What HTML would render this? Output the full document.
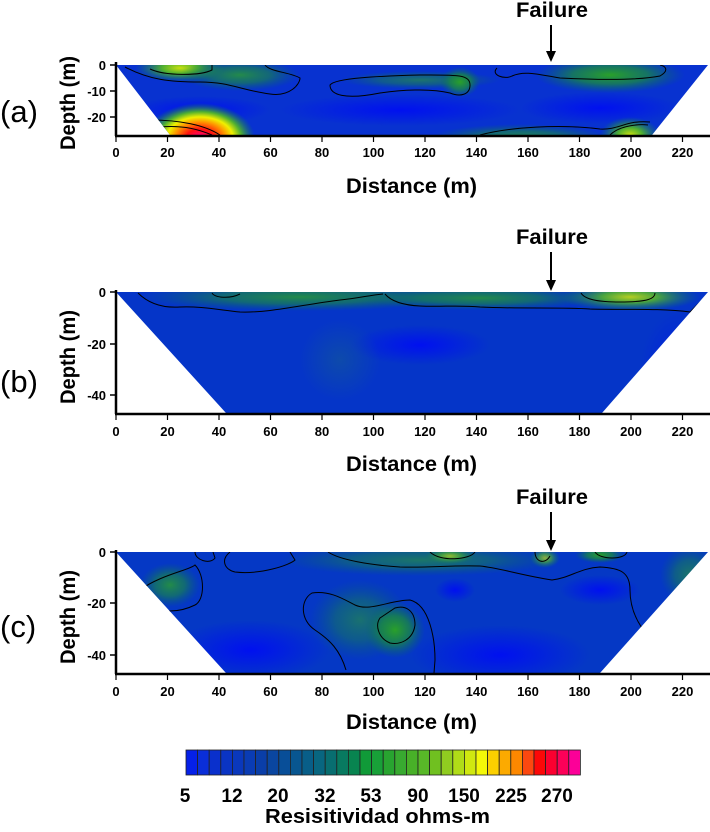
<!DOCTYPE html>
<html><head><style>
html,body{margin:0;padding:0;background:#fff;}
svg text{font-family:"Liberation Sans",Arial,sans-serif;font-weight:bold;}
</style></head><body>
<svg width="710" height="827" viewBox="0 0 710 827" xmlns="http://www.w3.org/2000/svg">
<defs>
<radialGradient id="g"><stop offset="0" stop-color="#2aa02a" stop-opacity="1"/><stop offset="0.5" stop-color="#1a8a40" stop-opacity="0.75"/><stop offset="1" stop-color="#0a6a60" stop-opacity="0"/></radialGradient>
<radialGradient id="gy"><stop offset="0" stop-color="#c8e010"/><stop offset="0.4" stop-color="#50b030"/><stop offset="1" stop-color="#108050" stop-opacity="0"/></radialGradient>
<radialGradient id="hot"><stop offset="0" stop-color="#ff0090"/><stop offset="0.25" stop-color="#ff1010"/><stop offset="0.45" stop-color="#ff9000"/><stop offset="0.6" stop-color="#f0f000"/><stop offset="0.75" stop-color="#50b030"/><stop offset="1" stop-color="#108050" stop-opacity="0"/></radialGradient>
<radialGradient id="bl"><stop offset="0" stop-color="#0010f0"/><stop offset="1" stop-color="#0010f0" stop-opacity="0"/></radialGradient>
<radialGradient id="dg"><stop offset="0" stop-color="#1a6a80"/><stop offset="1" stop-color="#1a6a80" stop-opacity="0"/></radialGradient>
<clipPath id="ca"><polygon points="116,65 708,65 652,135 170,135"/></clipPath>
<clipPath id="cb"><polygon points="116,292 708,292 602,413 226,413"/></clipPath>
<clipPath id="cc"><polygon points="116,552 708,552 600,673 226,673"/></clipPath>
</defs>

<!-- Panel A -->
<g clip-path="url(#ca)">
<rect x="100" y="60" width="620" height="80" fill="#0832d0"/>
<ellipse cx="200" cy="110" rx="70" ry="14" fill="url(#bl)"/>
<ellipse cx="400" cy="110" rx="120" ry="16" fill="url(#bl)"/>
<ellipse cx="600" cy="108" rx="80" ry="16" fill="url(#bl)"/>
<ellipse cx="180" cy="68" rx="45" ry="14" fill="url(#gy)"/>
<ellipse cx="240" cy="75" rx="60" ry="16" fill="url(#g)" opacity="0.8"/>
<ellipse cx="420" cy="80" rx="80" ry="9" fill="url(#g)" opacity="0.6"/>
<ellipse cx="460" cy="82" rx="20" ry="15" fill="url(#g)"/>
<ellipse cx="610" cy="75" rx="75" ry="18" fill="url(#g)"/>
<ellipse cx="200" cy="138" rx="55" ry="35" fill="url(#hot)"/>
<ellipse cx="520" cy="138" rx="90" ry="14" fill="url(#g)" opacity="0.8"/>
<ellipse cx="630" cy="135" rx="30" ry="18" fill="url(#gy)"/>
<g fill="none" stroke="#000" stroke-width="1">
<path d="M125,67 C150,80 170,82 200,82 C230,82 240,90 270,94 C290,97 300,84 300,78 C290,72 270,72 265,65"/>
<path d="M150,69 C165,76 200,76 212,70 L212,65"/>
<path d="M330,85 C335,78 380,76 420,75 C455,75 470,74 470,85 C470,95 460,97 450,93 C430,88 400,90 380,93 C345,100 330,95 330,85Z"/>
<path d="M497,68 C490,75 505,80 512,76 C525,70 540,75 560,78 C600,80 640,80 660,76 C670,70 665,66 660,65"/>
<path d="M150,120 C180,120 205,125 220,135"/>
<path d="M160,127 C185,125 200,130 212,135"/>
<path d="M480,135 C510,127 560,124 600,129 C620,130 625,120 650,122"/>
<path d="M610,135 C620,125 640,124 648,125"/>
</g>
</g>

<!-- Panel B -->
<g clip-path="url(#cb)">
<rect x="100" y="285" width="620" height="135" fill="#0535c8"/>
<ellipse cx="420" cy="345" rx="70" ry="20" fill="url(#bl)"/>
<ellipse cx="680" cy="370" rx="40" ry="60" fill="url(#bl)" opacity="0.6"/>
<ellipse cx="340" cy="360" rx="40" ry="40" fill="url(#dg)" opacity="0.4"/>
<ellipse cx="300" cy="297" rx="160" ry="14" fill="url(#g)" opacity="0.8"/>
<ellipse cx="480" cy="298" rx="120" ry="12" fill="url(#g)" opacity="0.8"/>
<ellipse cx="630" cy="297" rx="70" ry="14" fill="url(#gy)" opacity="0.9"/>
<g fill="none" stroke="#000" stroke-width="1">
<path d="M138,293 C150,305 165,308 180,307 C200,306 220,310 240,312 C270,313 300,305 340,300 C360,298 370,295 383,294"/>
<path d="M212,293 C215,298 230,299 240,294"/>
<path d="M385,294 C390,300 400,305 420,306 C440,307 460,305 480,307 C520,309 560,307 590,309 C620,310 660,308 690,312 L708,294"/>
<path d="M581,293 C585,300 600,302 620,302 C650,302 655,298 655,293"/>
</g>
</g>

<!-- Panel C -->
<g clip-path="url(#cc)">
<rect x="100" y="545" width="620" height="135" fill="#0538c5"/>
<ellipse cx="250" cy="650" rx="80" ry="30" fill="url(#bl)"/>
<ellipse cx="500" cy="655" rx="90" ry="30" fill="url(#bl)"/>
<ellipse cx="455" cy="590" rx="20" ry="12" fill="url(#bl)"/>
<ellipse cx="600" cy="590" rx="40" ry="15" fill="url(#bl)"/>
<ellipse cx="170" cy="585" rx="30" ry="22" fill="url(#g)" opacity="0.8"/>
<ellipse cx="360" cy="620" rx="50" ry="40" fill="url(#g)" opacity="0.55"/>
<ellipse cx="395" cy="630" rx="30" ry="28" fill="url(#g)"/>
<ellipse cx="420" cy="560" rx="140" ry="16" fill="url(#g)" opacity="0.6"/>
<ellipse cx="450" cy="556" rx="25" ry="8" fill="url(#gy)" opacity="0.7"/>
<ellipse cx="545" cy="558" rx="15" ry="10" fill="url(#gy)" opacity="0.7"/>
<ellipse cx="600" cy="555" rx="25" ry="8" fill="url(#g)"/>
<ellipse cx="690" cy="575" rx="30" ry="30" fill="url(#g)" opacity="0.6"/>
<g fill="none" stroke="#000" stroke-width="1">
<path d="M140,590 C160,575 190,570 195,565 C205,575 205,600 195,605 C175,615 150,612 140,600"/>
<path d="M195,552 C195,560 210,565 215,558 L213,552"/>
<path d="M230,552 C220,560 225,570 235,572 C260,575 290,565 295,560 C290,552 290,552 290,552"/>
<path d="M328,552 C340,560 370,565 400,567 C430,568 450,565 480,566 C500,568 520,575 552,580 C570,578 580,568 600,567 C620,568 630,572 630,590 C630,620 650,640 660,645"/>
<path d="M430,552 C440,562 470,560 475,552"/>
<path d="M535,552 C535,562 545,565 550,556"/>
<path d="M595,552 C600,560 625,560 627,552"/>
<path d="M346,670 C340,650 330,640 315,630 C300,620 300,600 312,593 C330,590 345,600 355,605 C370,612 390,600 410,600 C430,605 435,640 435,660 L434,673"/>
<path d="M395,608 C405,605 415,610 415,625 C413,640 400,645 390,643 C378,638 375,625 380,618 Z"/>
</g>
</g>

<!-- Axes -->
<g stroke="#000" fill="none">
<line x1="116" y1="62" x2="116" y2="136" stroke-width="2.5"/>
<line x1="115" y1="136" x2="710" y2="136" stroke-width="2.5"/>
<line x1="116" y1="290" x2="116" y2="414" stroke-width="2.5"/>
<line x1="115" y1="414" x2="710" y2="414" stroke-width="2.5"/>
<line x1="116" y1="550" x2="116" y2="674" stroke-width="2.5"/>
<line x1="115" y1="674" x2="710" y2="674" stroke-width="2.5"/>
<g stroke-width="1.5">
<path d="M110,65H116M110,91H116M110,117H116"/>
<path d="M110,292H116M110,344H116M110,395H116"/>
<path d="M110,552H116M110,603H116M110,655H116"/>
</g>
<g stroke-width="1.2">
<path d="M116,136v6M167.5,136v6M219,136v6M270.5,136v6M322,136v6M373.5,136v6M425,136v6M476.5,136v6M528,136v6M579.5,136v6M631,136v6M682.5,136v6"/>
<path transform="translate(0,278)" d="M116,136v6M167.5,136v6M219,136v6M270.5,136v6M322,136v6M373.5,136v6M425,136v6M476.5,136v6M528,136v6M579.5,136v6M631,136v6M682.5,136v6"/>
<path transform="translate(0,538)" d="M116,136v6M167.5,136v6M219,136v6M270.5,136v6M322,136v6M373.5,136v6M425,136v6M476.5,136v6M528,136v6M579.5,136v6M631,136v6M682.5,136v6"/>
</g>
</g>

<g font-size="13" text-anchor="end" fill="#000">
<text x="106" y="70">0</text><text x="106" y="96">-10</text><text x="106" y="122">-20</text>
<text x="106" y="297">0</text><text x="106" y="349">-20</text><text x="106" y="400">-40</text>
<text x="106" y="557">0</text><text x="106" y="608">-20</text><text x="106" y="660">-40</text>
</g>
<g font-size="13" text-anchor="middle" fill="#000">
<g><text x="116" y="157">0</text><text x="167.5" y="157">20</text><text x="219" y="157">40</text><text x="270.5" y="157">60</text><text x="322" y="157">80</text><text x="373.5" y="157">100</text><text x="425" y="157">120</text><text x="476.5" y="157">140</text><text x="528" y="157">160</text><text x="579.5" y="157">180</text><text x="631" y="157">200</text><text x="682.5" y="157">220</text></g>
<g transform="translate(0,279)"><text x="116" y="157">0</text><text x="167.5" y="157">20</text><text x="219" y="157">40</text><text x="270.5" y="157">60</text><text x="322" y="157">80</text><text x="373.5" y="157">100</text><text x="425" y="157">120</text><text x="476.5" y="157">140</text><text x="528" y="157">160</text><text x="579.5" y="157">180</text><text x="631" y="157">200</text><text x="682.5" y="157">220</text></g>
<g transform="translate(0,539)"><text x="116" y="157">0</text><text x="167.5" y="157">20</text><text x="219" y="157">40</text><text x="270.5" y="157">60</text><text x="322" y="157">80</text><text x="373.5" y="157">100</text><text x="425" y="157">120</text><text x="476.5" y="157">140</text><text x="528" y="157">160</text><text x="579.5" y="157">180</text><text x="631" y="157">200</text><text x="682.5" y="157">220</text></g>
</g>
<g font-size="21" fill="#000">
<text x="346" y="193" textLength="131" lengthAdjust="spacingAndGlyphs">Distance (m)</text>
<text x="346" y="471" textLength="131" lengthAdjust="spacingAndGlyphs">Distance (m)</text>
<text x="346" y="729" textLength="131" lengthAdjust="spacingAndGlyphs">Distance (m)</text>
<text x="516" y="17" textLength="72" lengthAdjust="spacingAndGlyphs">Failure</text>
<text x="516" y="244" textLength="72" lengthAdjust="spacingAndGlyphs">Failure</text>
<text x="516" y="504" textLength="72" lengthAdjust="spacingAndGlyphs">Failure</text>
<text transform="translate(75,150) rotate(-90)" textLength="94" lengthAdjust="spacingAndGlyphs">Depth (m)</text>
<text transform="translate(75,404) rotate(-90)" textLength="94" lengthAdjust="spacingAndGlyphs">Depth (m)</text>
<text transform="translate(75,664) rotate(-90)" textLength="94" lengthAdjust="spacingAndGlyphs">Depth (m)</text>
</g>
<g font-size="31" fill="#000">
<text x="0" y="122" style="font-weight:normal">(a)</text>
<text x="0" y="392" style="font-weight:normal">(b)</text>
<text x="0" y="637" style="font-weight:normal">(c)</text>
</g>
<g fill="#000" stroke="#000">
<line x1="551" y1="25" x2="551" y2="52" stroke-width="2"/><polygon points="546,51 556,51 551,62" stroke="none"/>
<line x1="551" y1="252" x2="551" y2="281" stroke-width="2"/><polygon points="546,280 556,280 551,291" stroke="none"/>
<line x1="551" y1="512" x2="551" y2="541" stroke-width="2"/><polygon points="546,540 556,540 551,551" stroke="none"/>
</g>

<!-- Colorbar -->
<g stroke="#222" stroke-width="0.8">
<rect x="186" y="750" width="11.6" height="25" fill="#0520e8"/>
<rect x="197.6" y="750" width="11.6" height="25" fill="#0a2ed8"/>
<rect x="209.2" y="750" width="11.6" height="25" fill="#0a30cc"/>
<rect x="220.8" y="750" width="11.6" height="25" fill="#0a34c4"/>
<rect x="232.4" y="750" width="11.6" height="25" fill="#0a38bc"/>
<rect x="244" y="750" width="11.6" height="25" fill="#0a3cb4"/>
<rect x="255.6" y="750" width="11.6" height="25" fill="#0a3ea8"/>
<rect x="267.2" y="750" width="11.6" height="25" fill="#0a46a0"/>
<rect x="278.8" y="750" width="11.6" height="25" fill="#084e98"/>
<rect x="290.4" y="750" width="11.6" height="25" fill="#085690"/>
<rect x="302" y="750" width="11.6" height="25" fill="#085e88"/>
<rect x="313.6" y="750" width="11.6" height="25" fill="#086680"/>
<rect x="325.2" y="750" width="11.6" height="25" fill="#086e70"/>
<rect x="336.8" y="750" width="11.6" height="25" fill="#087a60"/>
<rect x="348.4" y="750" width="11.6" height="25" fill="#088450"/>
<rect x="360" y="750" width="11.6" height="25" fill="#109a38"/>
<rect x="371.6" y="750" width="11.6" height="25" fill="#18a038"/>
<rect x="383.2" y="750" width="11.6" height="25" fill="#28a430"/>
<rect x="394.8" y="750" width="11.6" height="25" fill="#38aa30"/>
<rect x="406.4" y="750" width="11.6" height="25" fill="#48b028"/>
<rect x="418" y="750" width="11.6" height="25" fill="#58b828"/>
<rect x="429.6" y="750" width="11.6" height="25" fill="#70c020"/>
<rect x="441.2" y="750" width="11.6" height="25" fill="#90cc20"/>
<rect x="452.8" y="750" width="11.6" height="25" fill="#b0dc18"/>
<rect x="464.4" y="750" width="11.6" height="25" fill="#d0e810"/>
<rect x="476" y="750" width="11.6" height="25" fill="#f4f808"/>
<rect x="487.6" y="750" width="11.6" height="25" fill="#fcd000"/>
<rect x="499.2" y="750" width="11.6" height="25" fill="#fcaa00"/>
<rect x="510.8" y="750" width="11.6" height="25" fill="#fc8800"/>
<rect x="522.4" y="750" width="11.6" height="25" fill="#fc4810"/>
<rect x="534" y="750" width="11.6" height="25" fill="#fc0808"/>
<rect x="545.6" y="750" width="11.6" height="25" fill="#fc0030"/>
<rect x="557.2" y="750" width="11.6" height="25" fill="#fc0058"/>
<rect x="568.8" y="750" width="11.6" height="25" fill="#fc0098"/>
</g>
<g font-size="19" text-anchor="middle" fill="#000">
<text x="185" y="802">5</text><text x="232" y="802">12</text><text x="278" y="802">20</text><text x="325" y="802">32</text><text x="371" y="802">53</text><text x="418" y="802">90</text><text x="464" y="802">150</text><text x="511" y="802">225</text><text x="557" y="802">270</text>
</g>
<text x="265" y="823" font-size="20" fill="#000" textLength="225" lengthAdjust="spacingAndGlyphs">Resisitividad ohms-m</text>
</svg>
</body></html>
